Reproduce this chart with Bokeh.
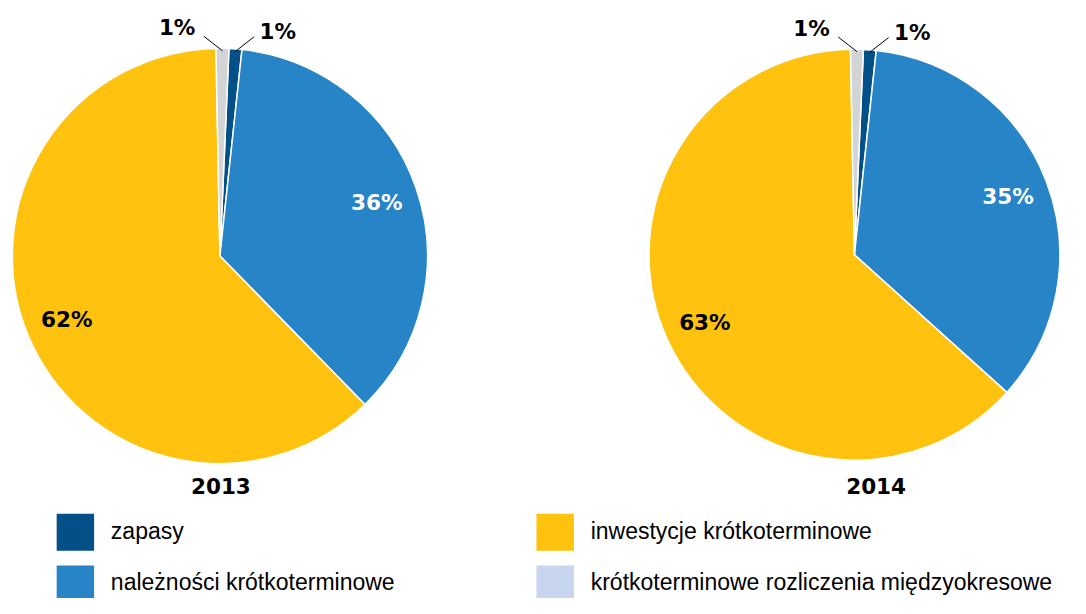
import math
from bokeh.plotting import figure
from bokeh.models import Range1d, ColumnDataSource
from bokeh.core.properties import value
from bokeh.embed import file_html
from bokeh.resources import INLINE

# ---------------- data ----------------
categories = ["zapasy", "należności krótkoterminowe",
              "inwestycje krótkoterminowe",
              "krótkoterminowe rozliczenia międzyokresowe"]
years = ["2013", "2014"]
values_2013 = [1, 36, 62, 1]
values_2014 = [1, 35, 63, 1]
pie_colors = ["#034f87", "#2684c7", "#fec20f", "#d3d4d6"]
legend_colors = ["#034f87", "#2684c7", "#fec20f", "#c7d5ee"]
label_colors = ["black", "white", "black", "black"]

# ---------------- layout ----------------
W, H = 1070, 598          # pixel size of the figure
RW, RH = 1086, 614        # design coordinate space

def sx(X):
    return X

def sy(Y):
    return RH - Y

p = figure(width=W, height=H, output_backend="svg", toolbar_location=None,
           x_range=Range1d(0, RW), y_range=Range1d(0, RH), min_border=0)
p.axis.visible = False
p.grid.visible = False
p.outline_line_color = None
p.background_fill_color = "white"
p.border_fill_color = "white"

BOLD = value("DejaVu Sans")
REG = value("Liberation Sans")

pies = [
    dict(vals=values_2013, cx=222.7, cy=262.3, r=210.7, year_xy=(223.7, 498.3)),
    dict(vals=values_2014, cx=866.7, cy=261.0, r=208.5, year_xy=(888.7, 498.0)),
]
first_slice_deg = 2.5

for yr, pie in zip(years, pies):
    vals = pie["vals"]
    total = float(sum(vals))
    cx, cy, r = sx(pie["cx"]), sy(pie["cy"]), pie["r"]
    starts, ends, mids, raw_mids = [], [], [], []
    cum = 0.0
    off = first_slice_deg / 360.0
    for v in vals:
        c0 = cum
        c1 = cum + v / total
        cum = c1
        starts.append(math.pi / 2 - 2 * math.pi * (c1 + off))
        ends.append(math.pi / 2 - 2 * math.pi * (c0 + off))
        mids.append(math.pi / 2 - 2 * math.pi * ((c0 + c1) / 2 + off))
        raw_mids.append((c0 + c1) / 2)
    src = ColumnDataSource(dict(start=starts, end=ends, color=pie_colors))
    p.wedge(x=cx, y=cy, radius=r, start_angle="start", end_angle="end",
            fill_color="color", line_color="white", line_width=1.5, source=src)

    lx, ly, lt, lc = [], [], [], []
    for v, a, rm, col in zip(vals, mids, raw_mids, label_colors):
        txt = f"{v:.0f}%"
        if v / total >= 0.05:
            lx.append(cx + 0.8 * r * math.cos(a))
            ly.append(cy + 0.8 * r * math.sin(a))
            lt.append(txt)
            lc.append(col)
        else:
            ax = cx + r * math.cos(a)
            ay = cy + r * math.sin(a)
            side = 1 if rm < 0.5 else -1
            ex, ey = ax + side * 19, ay + 15
            p.line([ax, ex], [ay, ey], line_color="black", line_width=1)
            lx.append(ex + (24 if side > 0 else -27))
            ly.append(ey + (5 if side > 0 else 9))
            lt.append(txt)
            lc.append("black")
    p.text(x=lx, y=ly, text=lt, text_color=lc, text_font=BOLD,
           text_font_style="bold", text_font_size="21.5px",
           text_align="center", text_baseline="middle")
    p.text(x=[sx(pie["year_xy"][0])], y=[sy(pie["year_xy"][1])], text=[yr],
           text_color="black", text_font=BOLD, text_font_style="bold",
           text_font_size="21.5px", text_align="center", text_baseline="middle")

# ---------------- legend ----------------
leg_sq_x = [76, 76, 563, 563]
leg_sq_y = [546, 599, 546, 599]
leg_tx_x = [112, 112, 599, 599]
leg_tx_y = [545, 597, 545, 597]
p.rect(x=[sx(v) for v in leg_sq_x], y=[sy(v) for v in leg_sq_y],
       width=38, height=38, fill_color=legend_colors, line_color=None)
p.text(x=[sx(v) for v in leg_tx_x], y=[sy(v) for v in leg_tx_y],
       text=categories, text_color="black", text_font=REG,
       text_font_size="23px", text_align="left", text_baseline="middle")

open("out.html", "w").write(file_html(p, INLINE))
